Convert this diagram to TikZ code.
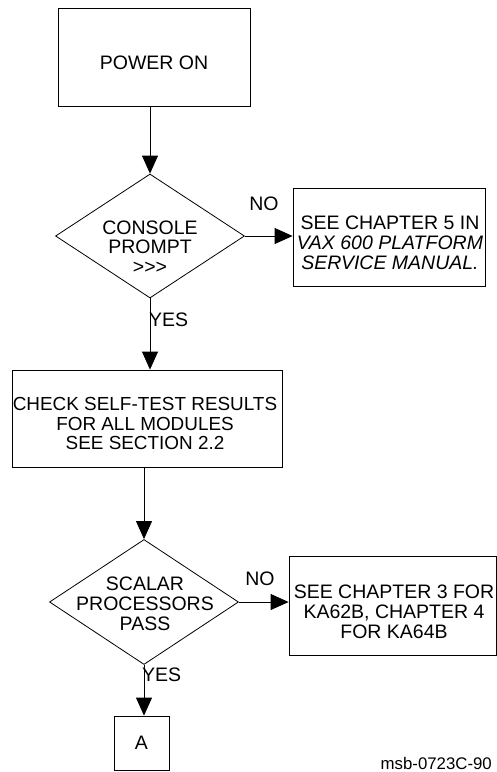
\documentclass[tikz,border=0pt]{standalone}
\usepackage{fontspec}
\setmainfont{Liberation Sans}
\usetikzlibrary{arrows.meta,shapes.geometric}

\begin{document}
\begin{tikzpicture}[x=1pt,y=-1pt,
	box/.style={draw, line width=0.8pt, inner sep=0pt},
	decision/.style={draw, diamond, line width=0.8pt, inner sep=0pt, minimum width=189pt},
	flow/.style={line width=0.8pt, -{Triangle[length=18pt,width=16pt]}},
	words/.style={inner sep=0pt, align=center, font=\fontsize{19.5}{19.8}\selectfont}]
			%%%%% START %%%%%
			
			\useasboundingbox (0, 0) rectangle (497, 772);
			
			\node[box, minimum width=192pt, minimum height=98pt] (power) at (154, 57) {};
			\node[words] (powertext) at (154, 62.5) {POWER ON};
			
			\node[decision, minimum height=124pt] (console) at (150, 236) {};
			\node[words] (consoletext) at (150, 247) {CONSOLE\\PROMPT\\>{}>{}>};
			
			\node[box, minimum width=192pt, minimum height=98pt] (manual) at (389, 237) {};
			\node[words] (manualtext) at (390, 242.5)
				{SEE CHAPTER 5 IN\\\textit{VAX 600 PLATFORM}\\\textit{SERVICE MANUAL.}};
			
			\node[box, minimum width=270pt, minimum height=97pt] (selftest) at (147, 418.5) {};
			\node[words, font=\fontsize{18.9}{19.5}\selectfont] (selftesttext) at (145, 423.5)
				{CHECK SELF-TEST RESULTS\\FOR ALL MODULES\\SEE SECTION 2.2};
			
			\node[decision, minimum height=125pt] (scalar) at (144, 602) {};
			\node[words] (scalartext) at (145, 604) {SCALAR\\PROCESSORS\\PASS};
			
			\node[box, minimum width=207pt, minimum height=99pt] (chapters) at (392.5, 605.5) {};
			\node[words] (chapterstext) at (394, 611.5) {SEE CHAPTER 3 FOR\\KA62B, CHAPTER 4\\FOR KA64B};
			
			\node[box, minimum width=55pt, minimum height=54pt] (boxa) at (141.5, 743) {};
			\node[words] (boxatext) at (boxa) {A};
			
			\draw[flow] (power.south -| console.north) -- (console.north);
			\draw[flow] (console.east) -- (console.east -| manual.west);
			\draw[flow] (console.south) -- (console.south |- selftest.north);
			\draw[flow] (selftest.south -| scalar.north) -- (scalar.north);
			\draw[flow] (scalar.east) -- (scalar.east -| chapters.west);
			\draw[flow] (scalar.south) -- (scalar.south |- boxa.north);
			
			\node[words] (no1) at (264, 204) {NO};
			\node[words, anchor=west] (yes1) at (149, 320) {YES};
			\node[words] (no2) at (260, 579) {NO};
			\node[words, anchor=west] (yes2) at (142, 675) {YES};
			
			\node[words, anchor=base east, font=\fontsize{16.8}{17}\selectfont] (figid) at (492, 769.5) {msb-0723C-90};
			
			%%%%% END %%%%%
		\end{tikzpicture}
\end{document}
